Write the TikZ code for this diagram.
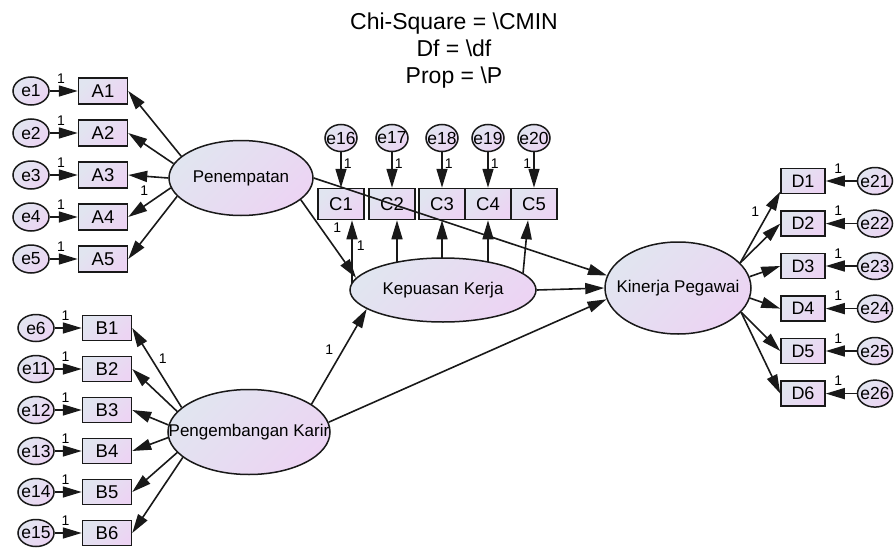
\documentclass[tikz,border=0pt]{standalone}
\usepackage{fontspec}
\setmainfont{Liberation Sans}
\usetikzlibrary{shapes.geometric,arrows.meta,calc}
\pgfdeclarelayer{background}
\pgfsetlayers{background,main}
\definecolor{gA}{RGB}{225,229,240}
\definecolor{gB}{RGB}{236,212,243}
\definecolor{ink}{RGB}{25,25,25}
\begin{document}
\begin{tikzpicture}[x=1pt,y=-1pt,
  shaded/.style={top color=gA,bottom color=gB,shading angle=45},
  obs/.style={rectangle,draw=ink,line width=1.5pt,shaded,minimum width=49pt,minimum height=26pt,inner sep=0pt,font=\fontsize{18.5}{20}\selectfont},
  cobs/.style={obs,minimum width=46pt,minimum height=31pt},
  dobs/.style={obs,minimum width=44pt,minimum height=25pt,font=\fontsize{18}{20}\selectfont},
  err/.style n args={3}{ellipse,draw=ink,line width=1.5pt,shaded,inner sep=0pt,minimum width=#1,minimum height=#2,label={[font=\fontsize{17.5}{20}\selectfont,inner sep=0pt]center:#3}},
  lat/.style n args={3}{ellipse,draw=ink,line width=1.5pt,shaded,inner sep=0pt,minimum width=#1,minimum height=#2,label={[font=\fontsize{17}{20}\selectfont,inner sep=0pt]center:#3}},
  arr/.style={draw=ink,line width=1.6pt,-{Triangle[length=19pt,width=11pt]}},
  one/.style={font=\fontsize{14}{14}\selectfont,inner sep=1pt}
]
\useasboundingbox (0,0) rectangle (895,549);

% title
\node[font=\fontsize{23}{27}\selectfont,align=center] (title) at (454,51)
  {Chi-Square = \textbackslash CMIN\\Df = \textbackslash df\\Prop = \textbackslash P};

% latent variables
\node[lat={144pt}{75pt}{Penempatan}] (Pen) at (241,178) {};
\node[lat={162pt}{85pt}{Pengembangan Karir}] (Peng) at (249,432) {};
\node[lat={186pt}{64pt}{Kepuasan Kerja}] (Kep) at (443,290) {};
\node[lat={146pt}{92pt}{Kinerja Pegawai}] (Kin) at (678,288) {};

% A group
\foreach \i/\y in {1/91,2/133,3/175,4/217,5/259}{
  \node[obs] (A\i) at (103,\y) {A\i};
  \node[err={36pt}{28pt}{e\i}] (e\i) at (31,\y) {};
}
% B group
\node[obs,minimum height=25pt] (B1) at (107,328) {B1};
\node[obs,minimum height=25pt] (B2) at (107,369) {B2};
\node[obs,minimum height=25pt] (B3) at (107,410) {B3};
\node[obs,minimum height=25pt] (B4) at (107,451) {B4};
\node[obs,minimum height=25pt] (B5) at (107,492) {B5};
\node[obs,minimum height=25pt] (B6) at (107,533) {B6};
\node[err={36pt}{27pt}{e6}] (e6) at (36,328) {};
\node[err={36pt}{27pt}{e11}] (e11) at (36,369) {};
\node[err={36pt}{27pt}{e12}] (e12) at (36,410) {};
\node[err={36pt}{27pt}{e13}] (e13) at (36,451) {};
\node[err={36pt}{27pt}{e14}] (e14) at (36,492) {};
\node[err={36pt}{27pt}{e15}] (e15) at (36,533) {};
% C group
\node[cobs] (C1) at (341,204) {C1};
\node[cobs] (C2) at (392,204) {C2};
\node[cobs] (C3) at (442,204) {C3};
\node[cobs] (C4) at (488,204) {C4};
\node[cobs] (C5) at (534,204) {C5};
\node[err={32pt}{27pt}{e16}] (e16) at (341,138) {};
\node[err={32pt}{27pt}{e17}] (e17) at (392,138) {};
\node[err={32pt}{27pt}{e18}] (e18) at (442,138) {};
\node[err={32pt}{27pt}{e19}] (e19) at (488,138) {};
\node[err={32pt}{27pt}{e20}] (e20) at (534,138) {};
% D group
\foreach \j/\y [evaluate=\j as \k using int(\j+20)] in {1/181,2/223.6,3/266,4/308.6,5/351,6/393.6}{
  \node[dobs] (D\j) at (803,\y) {D\j};
  \node[err={35pt}{27pt}{e\k}] (e\k) at (875,\y) {};
}

% error arrows
\foreach \i in {1,...,5}{
  \draw[arr] (e\i) -- node[one,pos=0.4,above=6pt]{1} (A\i);
}
\foreach \a/\b in {e6/B1,e11/B2,e12/B3,e13/B4,e14/B5,e15/B6}{
  \draw[arr] (\a) -- node[one,pos=0.4,above=6pt]{1} (\b);
}
\foreach \a/\b in {e16/C1,e17/C2,e18/C3,e19/C4}{
  \draw[arr] (\a) -- node[one,pos=0.32,right=1pt]{1} (\b);
}
\draw[arr] (e20) -- node[one,pos=0.32,left=1pt]{1} (C5);
\foreach \j in {1,...,6}{
  \pgfmathtruncatemacro{\k}{\j+20}
  \draw[arr] (e\k) -- node[one,pos=0.6,above=6pt]{1} (D\j);
}

% Penempatan loadings
\draw[arr] (Pen.160) -- (A1.east);
\draw[arr] (Pen.168) -- (A2.east);
\draw[arr] (Pen.180) -- (A3.east);
\draw[arr] (Pen.188) -- node[one,pos=0.62,above=9pt]{1} (A4.east);
\draw[arr] (Pen.196) -- (A5.east);

% Pengembangan loadings
\draw[arr] (Peng.160) -- node[one,pos=0.62,right=6pt]{1} (B1.east);
\draw[arr] (Peng.164.5) -- (B2.east);
\draw[arr] (Peng.175) -- (B3.east);
\draw[arr] (Peng.184) -- (B4.east);
\draw[arr] (Peng.196) -- (B5.east);
\draw[arr] (Peng.201) -- (B6.east);

% Kepuasan loadings
\coordinate (c1x) at ($(C1.south)+(11,0)$);
\coordinate (c2x) at ($(C2.south)+(5,0)$);
\coordinate (c5x) at ($(C5.south)+(-6,0)$);
\begin{pgfonlayer}{background}
\draw[arr] (c1x |- Kep.center) -- node[one,pos=0.64,right=3pt]{1} node[one,pos=0.9,left=9pt]{1} (c1x);
\draw[arr] (c2x |- Kep.center) -- (c2x);
\draw[arr] (C3.south |- Kep.center) -- (C3.south);
\draw[arr] (C4.south |- Kep.center) -- (C4.south);
\end{pgfonlayer}
\draw[arr] (Kep.12.7) -- (c5x);

% Kinerja loadings
\draw[arr] (Kin.22) -- node[one,pos=0.72,left=8pt]{1} (D1.205);
\draw[arr] (Kin.22) -- (D2.west);
\draw[arr] (Kin.9) -- (D3.west);
\draw[arr] (Kin.-8) -- (D4.west);
\draw[arr] (Kin.-21) -- (D5.west);
\draw[arr] (Kin.-21) -- (D6.west);

% structural paths
\draw[arr] (Pen.340) -- (Kep.172);
\draw[arr] (Peng.24) -- node[one,pos=0.57,left=8pt]{1} (Kep.194);
\draw[arr] (Pen.east) -- (Kin.170);
\draw[arr] (Kep.east) -- (Kin.west);
\draw[arr] (Peng.7) -- (Kin.189);
\end{tikzpicture}
\end{document}
